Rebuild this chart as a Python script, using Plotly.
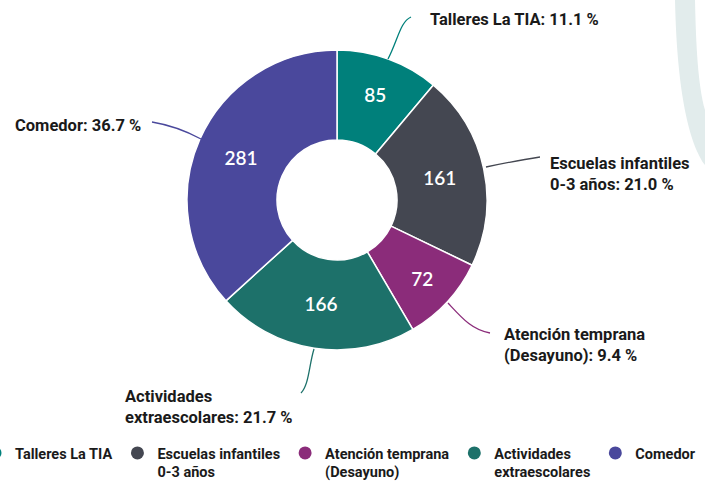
import plotly.graph_objects as go

categories = ["Talleres La TIA", "Escuelas infantiles 0-3 años", "Atención temprana (Desayuno)",
              "Actividades extraescolares", "Comedor"]
legend_labels = ["Talleres La TIA", "Escuelas infantiles<br>0-3 años", "Atención temprana<br>(Desayuno)",
                 "Actividades<br>extraescolares", "Comedor"]
callout_labels = ["Talleres La TIA: 11.1 %", "Escuelas infantiles<br>0-3 años: 21.0 %",
                  "Atención temprana<br>(Desayuno): 9.4 %", "Actividades<br>extraescolares: 21.7 %",
                  "Comedor: 36.7 %"]
values = [85, 161, 72, 166, 281]
colors = ["#00807b", "#444751", "#8b2c7a", "#1d716a", "#4a489c"]

VIEW_W = 705          # visible width
W, H = 770, 503       # figure canvas (right part beyond 705 is clipped by the page)
PH = 432              # plot-area height in pixels (legend sits below it)

def px(x):
    return x / W

def py(y):
    return 1 - y / PH

fig = go.Figure()

# Donut
cx, cy, R = 337, 200, 150
fig.add_trace(go.Pie(
    labels=categories, values=values, sort=False, direction="clockwise", rotation=0,
    hole=0.4, marker=dict(colors=colors, line=dict(color="white", width=1.5)),
    textinfo="value", textposition="inside", insidetextorientation="horizontal",
    textfont=dict(family="Lato", size=19, color="white", weight=600),
    domain=dict(x=[px(cx - R), px(cx + R)], y=[py(cy + R), py(cy - R)]),
    showlegend=False, hoverinfo="label+value+percent",
))

# Legend entries (circle markers)
for lab, col in zip(legend_labels, colors):
    fig.add_trace(go.Scatter(x=[None], y=[None], mode="markers", name=lab,
                             marker=dict(symbol="circle", size=13, color=col),
                             showlegend=True))

# Callout curves (pixel coords on hidden axes)
curves = [
    ("M 388 59 C 398 40, 400 22, 411 17", colors[0]),
    ("M 486 167 C 505 163, 520 160, 540 157", colors[1]),
    ("M 448 303 C 462 318, 472 330, 490 333", colors[2]),
    ("M 314 349 C 309 365, 309 385, 301 393", colors[3]),
    ("M 152 122 C 170 125, 188 132, 201 139", colors[4]),
]
shapes = []
for path, col in curves:
    shapes.append(dict(type="path", path=path, xref="x", yref="y",
                       line=dict(color=col, width=1.3), layer="above"))

# Decorative background band (top right)
shapes.append(dict(type="path", xref="x", yref="y", layer="below",
                   path="M 675 0 L 695 0 C 696 45 698 85 705 110 L 705 165 C 690 145 677 95 675 0 Z",
                   fillcolor="#e2ecec", line=dict(width=0)))

lab_font = dict(family="Roboto", size=16.5, color="#1a1a1a", weight="bold")
annots = [
    (428, 19, callout_labels[0]),
    (548, 174, callout_labels[1]),
    (502, 345, callout_labels[2]),
    (123, 407, callout_labels[3]),
    (13, 125, callout_labels[4]),
]
annotations = []
for x, y, t in annots:
    annotations.append(dict(x=x, y=y, xref="x", yref="y", text=t, showarrow=False,
                            xanchor="left", yanchor="middle", align="left", font=lab_font))

fig.update_layout(
    width=W, height=H,
    margin=dict(l=0, r=0, t=0, b=H - PH, autoexpand=False),
    paper_bgcolor="white", plot_bgcolor="rgba(0,0,0,0)",
    xaxis=dict(range=[0, W], visible=False, domain=[0, 1], fixedrange=True),
    yaxis=dict(range=[PH, 0], visible=False, domain=[0, 1], fixedrange=True),
    shapes=shapes, annotations=annotations,
    showlegend=True,
    legend=dict(orientation="h", x=px(-25), xanchor="left", y=-5 / PH, yanchor="top",
                valign="top", itemwidth=30, tracegroupgap=0,
                font=dict(family="Roboto", size=14.5, color="#1a1a1a", weight="bold"),
                bgcolor="rgba(0,0,0,0)"),
)

post = (
    "document.body.style.margin='0px';"
    "document.documentElement.style.overflow='hidden';"
    "document.body.style.overflow='hidden';"
    "var d=document.getElementById('{plot_id}');"
    "d.style.width='" + str(VIEW_W) + "px';d.style.overflow='hidden';"
)
fig.write_html("out.html", config={"displayModeBar": False}, post_script=post)
